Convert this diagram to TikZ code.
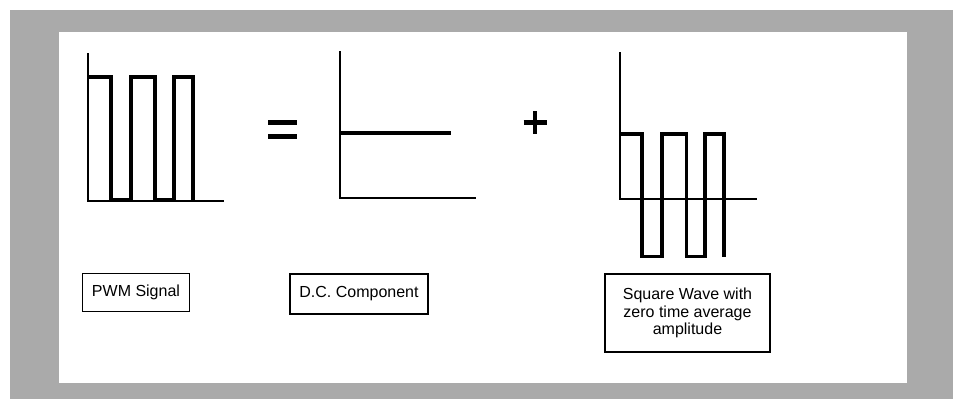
\documentclass[tikz,border=0pt]{standalone}
\usepackage{fontspec}
\setmainfont{Liberation Sans}
\definecolor{framegray}{RGB}{170,170,170}
\tikzset{
  axisline/.style={line width=2pt, black},
  waveline/.style={line width=3.4pt, black, line join=miter},
  labelbox/.style={draw, line width=1.5pt, inner sep=0pt, align=center, font=\fontsize{16}{17.5}\selectfont},
  opsign/.style={line width=4.2pt, black}
}
\begin{document}
\begin{tikzpicture}[x=1pt,y=-1pt]
\useasboundingbox (0,0) rectangle (953,399);
\fill[white] (0,0) rectangle (953,399);
\fill[framegray] (10,10) rectangle (953,399);
\fill[white] (59,32) rectangle (907,383);

% PWM graph
\draw[axisline] (88,53) -- (88,201) -- (224,201);
\draw[waveline] (88,77) -- (111,77) -- (111,200) -- (131,200) -- (131,77) -- (155,77) -- (155,200) -- (174,200) -- (174,77) -- (193,77) -- (193,201);

% equals
\draw[opsign] (268,122.5) -- (297,122.5);
\draw[opsign] (268,136.5) -- (297,136.5);

% DC graph
\draw[axisline] (339.5,51) -- (339.5,197.5) -- (476,197.5);
\draw[waveline] (339.5,133) -- (451,133);

% plus
\draw[opsign] (523.5,122.5) -- (546.5,122.5);
\draw[opsign] (535,111) -- (535,134);

% Square wave graph
\draw[axisline] (619.5,52) -- (619.5,199) -- (757,199);
\draw[waveline] (619.5,134) -- (642,134) -- (642,256.5) -- (662,256.5) -- (662,134) -- (686.5,134) -- (686.5,256.5) -- (705,256.5) -- (705,134) -- (724,134) -- (724,257);

% labels
\node[labelbox, minimum width=107pt, minimum height=38pt] (pwm) at (136,292.5) {PWM Signal};
\node[labelbox, minimum width=138pt, minimum height=40pt] (dc) at (359,294) {D.C. Component};
\node[labelbox, minimum width=165pt, minimum height=78pt] (sq) at (687.5,313) {Square Wave with\\zero time average\\amplitude};
\end{tikzpicture}
\end{document}
